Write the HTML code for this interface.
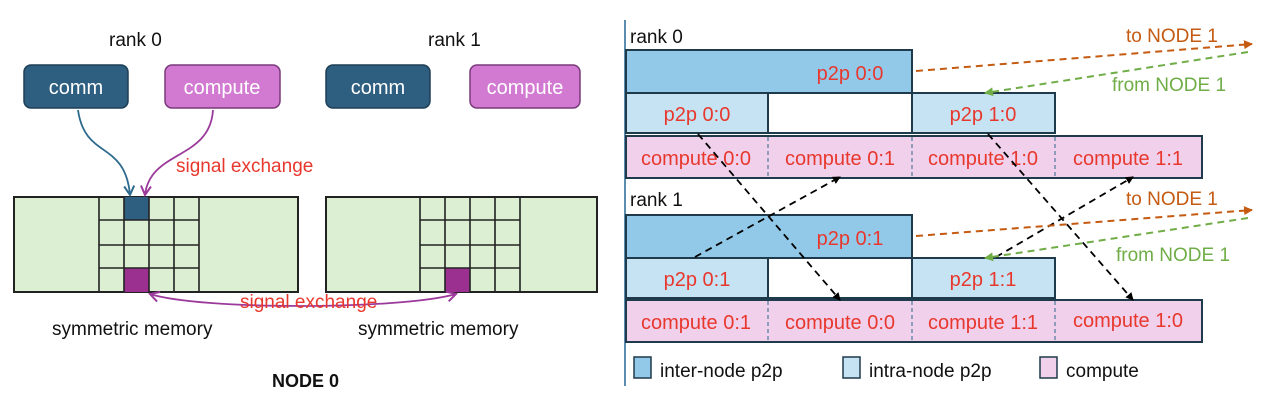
<!DOCTYPE html>
<html><head><style>body{margin:0;background:#fff}svg{display:block}text{font-family:"Liberation Sans",sans-serif}</style></head>
<body>
<svg width="1266" height="408" viewBox="0 0 1266 408" xmlns="http://www.w3.org/2000/svg">
<defs>
<marker id="ab" markerWidth="8" markerHeight="8" refX="7" refY="4" orient="auto" markerUnits="userSpaceOnUse"><path d="M0,0 L8,4 L0,8 z" fill="#000"/></marker>
<marker id="ao" markerWidth="9" markerHeight="9" refX="8" refY="4.5" orient="auto" markerUnits="userSpaceOnUse"><path d="M0,0 L9,4.5 L0,9 z" fill="#c55a11"/></marker>
<marker id="ag" markerWidth="9" markerHeight="9" refX="8" refY="4.5" orient="auto" markerUnits="userSpaceOnUse"><path d="M0,0 L9,4.5 L0,9 z" fill="#70ad47"/></marker>
<marker id="abl" markerWidth="12" markerHeight="12" refX="10" refY="6" orient="auto" markerUnits="userSpaceOnUse"><path d="M1,1 L10,6 L1,11" fill="none" stroke="#2e6a8e" stroke-width="2"/></marker>
<marker id="apu" markerWidth="12" markerHeight="12" refX="10" refY="6" orient="auto" markerUnits="userSpaceOnUse"><path d="M1,1 L10,6 L1,11" fill="none" stroke="#9b3a9b" stroke-width="2"/></marker>
<marker id="apu2" markerWidth="12" markerHeight="12" refX="10" refY="6" orient="auto-start-reverse" markerUnits="userSpaceOnUse"><path d="M1,1 L10,6 L1,11" fill="none" stroke="#9b3a9b" stroke-width="2"/></marker>
</defs>

<!-- LEFT -->
<text x="109" y="46" font-size="19" fill="#111">rank 0</text>
<text x="428" y="46" font-size="19" fill="#111">rank 1</text>
<rect x="24" y="65" width="104" height="43" rx="7" fill="#2e5f80" stroke="#1f3f55" stroke-width="1.5"/>
<text x="76" y="94" font-size="20" fill="#fff" text-anchor="middle">comm</text>
<rect x="165" y="65" width="115" height="43" rx="7" fill="#d27ad2" stroke="#7a3a7a" stroke-width="1.5"/>
<text x="222" y="94" font-size="20" fill="#fff" text-anchor="middle">compute</text>
<rect x="326" y="65" width="104" height="43" rx="7" fill="#2e5f80" stroke="#1f3f55" stroke-width="1.5"/>
<text x="378" y="94" font-size="20" fill="#fff" text-anchor="middle">comm</text>
<rect x="470" y="65" width="110" height="43" rx="7" fill="#d27ad2" stroke="#7a3a7a" stroke-width="1.5"/>
<text x="525" y="94" font-size="20" fill="#fff" text-anchor="middle">compute</text>

<g stroke="#222" stroke-width="2" fill="#dcefd2">
<rect x="14" y="197" width="284" height="95"/>
<rect x="326" y="197" width="271" height="95"/>
</g>
<rect x="124" y="197" width="25" height="23" fill="#2e5f80"/>
<rect x="124" y="268" width="25" height="24" fill="#9b3090"/>
<rect x="445" y="268" width="25" height="24" fill="#9b3090"/>
<g stroke="#222" stroke-width="1.6" fill="none">
<path d="M99,197V292M124,197V292M149,197V292M174,197V292M199,197V292M99,220H199M99,245H199M99,268H199"/>
<path d="M420,197V292M445,197V292M470,197V292M495,197V292M520,197V292M420,220H520M420,245H520M420,268H520"/>
</g>
<path d="M78,110 C85,160 125,140 130,195" stroke="#2e6a8e" stroke-width="1.8" fill="none" marker-end="url(#abl)"/>
<path d="M213,110 C210,160 150,150 145,195" stroke="#9b3a9b" stroke-width="1.8" fill="none" marker-end="url(#apu)"/>
<text x="176" y="172" font-size="19" fill="#e8382d">signal exchange</text>
<path d="M150,294 C200,310 400,310 456,294" stroke="#9b3a9b" stroke-width="1.8" fill="none" marker-start="url(#apu2)" marker-end="url(#apu)"/>
<text x="240" y="308" font-size="19" fill="#e8382d">signal exchange</text>
<text x="52" y="335" font-size="19" fill="#111">symmetric memory</text>
<text x="358" y="335" font-size="19" fill="#111">symmetric memory</text>
<text x="272" y="387" font-size="18" font-weight="bold" fill="#111">NODE 0</text>

<!-- RIGHT -->
<line x1="625" y1="20" x2="625" y2="386" stroke="#5b8db0" stroke-width="2"/>
<text x="630" y="43" font-size="19" fill="#111">rank 0</text>
<text x="630" y="206" font-size="19" fill="#111">rank 1</text>

<g stroke="#1f3a4a" stroke-width="2">
<rect x="626" y="50" width="286" height="43" fill="#92c9e9"/>
<rect x="626" y="93" width="142" height="40" fill="#c6e3f3"/>
<rect x="768" y="93" width="144" height="40" fill="#fff"/>
<rect x="912" y="93" width="143" height="40" fill="#c6e3f3"/>
<rect x="626" y="136" width="576" height="42" fill="#f0d0eb"/>
<rect x="626" y="215" width="286" height="43" fill="#92c9e9"/>
<rect x="626" y="258" width="142" height="40" fill="#c6e3f3"/>
<rect x="768" y="258" width="144" height="40" fill="#fff"/>
<rect x="912" y="258" width="143" height="40" fill="#c6e3f3"/>
<rect x="626" y="300" width="576" height="42" fill="#f0d0eb"/>
</g>
<g stroke="#4a7a9a" stroke-width="1.2" stroke-dasharray="4,3">
<path d="M768,137V177M912,137V177M1055,137V177M768,301V341M912,301V341M1055,301V341"/>
</g>
<g font-size="20" fill="#e8382d" text-anchor="middle">
<text x="850" y="80">p2p 0:0</text>
<text x="697" y="121">p2p 0:0</text>
<text x="983" y="121">p2p 1:0</text>
<text x="696" y="165">compute 0:0</text>
<text x="840" y="165">compute 0:1</text>
<text x="983" y="165">compute 1:0</text>
<text x="1128" y="165">compute 1:1</text>
<text x="850" y="245">p2p 0:1</text>
<text x="697" y="286">p2p 0:1</text>
<text x="983" y="286">p2p 1:1</text>
<text x="696" y="329">compute 0:1</text>
<text x="840" y="329">compute 0:0</text>
<text x="983" y="329">compute 1:1</text>
<text x="1128" y="327">compute 1:0</text>
</g>

<g stroke="#000" stroke-width="1.8" stroke-dasharray="7,5" fill="none">
<line x1="698" y1="134" x2="840" y2="300" marker-end="url(#ab)"/>
<line x1="695" y1="257" x2="840" y2="177" marker-end="url(#ab)"/>
<line x1="988" y1="134" x2="1133" y2="300" marker-end="url(#ab)"/>
<line x1="996" y1="257" x2="1133" y2="177" marker-end="url(#ab)"/>
</g>
<g stroke-width="2" stroke-dasharray="7,5" fill="none">
<line x1="916" y1="71" x2="1252" y2="44" stroke="#c55a11" marker-end="url(#ao)"/>
<line x1="1248" y1="52" x2="985" y2="93" stroke="#70ad47" marker-end="url(#ag)"/>
<line x1="916" y1="236" x2="1252" y2="210" stroke="#c55a11" marker-end="url(#ao)"/>
<line x1="1248" y1="218" x2="985" y2="258" stroke="#70ad47" marker-end="url(#ag)"/>
</g>
<text x="1126" y="42" font-size="19" fill="#c55a11">to NODE 1</text>
<text x="1112" y="91" font-size="19" fill="#70ad47">from NODE 1</text>
<text x="1126" y="205" font-size="19" fill="#c55a11">to NODE 1</text>
<text x="1116" y="261" font-size="19" fill="#70ad47">from NODE 1</text>

<rect x="634" y="357" width="17" height="21" fill="#92c9e9" stroke="#1f3a4a" stroke-width="1.5"/>
<text x="660" y="377" font-size="19" fill="#111">inter-node p2p</text>
<rect x="843" y="357" width="17" height="21" fill="#c6e3f3" stroke="#1f3a4a" stroke-width="1.5"/>
<text x="869" y="377" font-size="19" fill="#111">intra-node p2p</text>
<rect x="1040" y="357" width="17" height="21" fill="#f0d0eb" stroke="#1f3a4a" stroke-width="1.5"/>
<text x="1066" y="377" font-size="19" fill="#111">compute</text>
</svg>
</body></html>
